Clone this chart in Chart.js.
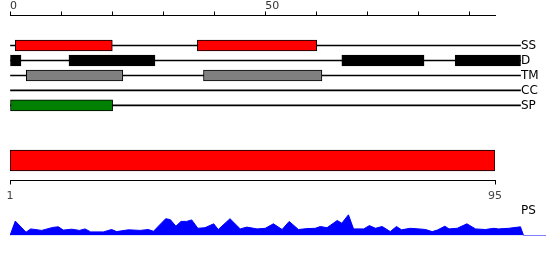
<!DOCTYPE html>
<html><head><meta charset="utf-8">
<script src="https://cdn.jsdelivr.net/npm/chart.js@4"></script>
<style>
html,body{margin:0;padding:0;background:#fff;}
#wrap{position:relative;width:550px;height:260px;overflow:hidden;}
canvas{position:absolute;left:0;}
</style></head><body>
<div id="wrap">
<canvas id="cTracks" width="550" height="113" style="top:0;width:550px;height:113px"></canvas>
<canvas id="cBar" width="550" height="65" style="top:140px;width:550px;height:65px"></canvas>
<canvas id="cPS" width="550" height="60" style="top:200px;width:550px;height:60px"></canvas>
</div>
<script>
// ---- data ----
const trackNames = ['SS', 'D', 'TM', 'CC', 'SP'];
const ssSegments = [[1.04, 20.04], [36.7, 60.1]];
const dSegments = [[0, 2.15], [11.55, 28.4], [65.0, 81.1], [87.2, 100]];
const tmSegments = [[3.2, 22.1], [37.9, 61.1]];
const ccSegments = [];
const spSegments = [[0, 20.1]];
const trackExtent = [0, 100];
const topTickValues = [0, 10, 20, 30, 40, 50, 60, 70, 80, 90];
const topTickLabels = ['0', '', '', '', '', '50', '', '', '', ''];
const proteinRange = [1, 95];
const bottomTickValues = [1, 95];
const psLabel = 'PS';
const psPositions = [0,1.04,3.14,4.06,6.22,8.37,9.47,10.45,12.1,13.6,14.7,15.8,18.3,19.9,20.9,23.2,25.5,27.1,28.1,30.5,31.4,32.5,33.5,34.6,35.6,36.8,38.2,39.9,40.8,43.1,45.1,46.4,48.4,50.0,51.6,53.3,54.7,56.5,58.2,59.8,60.8,62.1,64.1,65.0,66.3,67.3,69.3,70.4,71.6,72.9,74.5,75.7,76.7,78.4,80.1,81.4,82.7,83.7,85.2,86.0,87.6,89.5,91.2,93.1,94.8,95.7,97.7,100,100.6,105];
const psScores = [0,0.48,0.11,0.22,0.17,0.27,0.29,0.18,0.21,0.17,0.22,0.12,0.12,0.2,0.13,0.19,0.17,0.2,0.14,0.56,0.53,0.31,0.47,0.47,0.52,0.24,0.26,0.39,0.2,0.56,0.22,0.28,0.22,0.24,0.39,0.2,0.47,0.2,0.23,0.24,0.3,0.26,0.5,0.41,0.69,0.22,0.22,0.33,0.24,0.3,0.13,0.3,0.19,0.24,0.22,0.2,0.13,0.18,0.31,0.22,0.24,0.39,0.22,0.2,0.24,0.22,0.24,0.29,0,0];

Chart.defaults.font.family = "'DejaVu Sans', sans-serif";
Chart.defaults.animation = false;
Chart.defaults.responsive = false;
Chart.defaults.maintainAspectRatio = false;
Chart.defaults.plugins.legend.display = false;
Chart.defaults.plugins.tooltip.enabled = false;

// ---- tracks chart ----
function segData(segs, idx) { return segs.map(s => ({x: s, y: idx + 1})); }
function featureDataset(segs, idx, color) {
  return {data: segData(segs, idx), backgroundColor: color, borderColor: '#000', borderWidth: 1,
    borderSkipped: false, barThickness: 11, grouped: false, clip: false};
}
const trackSegs = [ssSegments, dSegments, tmSegments, ccSegments, spSegments];
const trackColors = ['#ff0000', '#000000', '#808080', '#000000', '#008000'];
const trackDatasets = trackSegs.map((s, i) => featureDataset(s, i, trackColors[i]));
trackDatasets.push({
  data: trackNames.map((n, i) => ({x: trackExtent, y: i + 1})),
  backgroundColor: '#000', borderWidth: 0, barThickness: 1, grouped: false, clip: false
});

new Chart(document.getElementById('cTracks'), {
  type: 'bar',
  data: {datasets: trackDatasets},
  options: {
    indexAxis: 'y',
    layout: {autoPadding: false, padding: {left: 10, right: 0, top: 0, bottom: 0}},
    scales: {
      x: {
        type: 'linear', position: 'top', min: 0, max: 95, offset: false,
        afterBuildTicks: s => { s.ticks = topTickValues.map(v => ({value: v})); },
        afterFit: s => { s.height = 15.5; },
        ticks: {callback: (v, i) => topTickLabels[i], align: 'start', autoSkip: false, maxRotation: 0,
          font: {size: 11, lineHeight: 1}, color: '#333', padding: 0},
        grid: {drawOnChartArea: false, drawTicks: true, tickLength: 4, color: '#000'},
        border: {display: true, color: '#000', width: 1}
      },
      y: {
        type: 'linear', position: 'right', reverse: true, min: -1, max: 5.5, offset: false,
        afterBuildTicks: s => { s.ticks = trackNames.map((n, i) => ({value: i + 1})); },
        afterFit: s => { s.width = 55; },
        ticks: {callback: (v, i) => trackNames[i], padding: 0, font: {size: 12, lineHeight: 0.01},
          color: '#000', autoSkip: false},
        grid: {display: false, drawTicks: true, tickLength: 26, offset: false},
        border: {display: false}
      }
    }
  }
});

// ---- protein bar + bottom axis ----
new Chart(document.getElementById('cBar'), {
  type: 'bar',
  data: {labels: ['protein'], datasets: [{
    data: [{x: proteinRange, y: 'protein'}], backgroundColor: '#ff0000', borderColor: '#000',
    borderWidth: 1, borderSkipped: false, barThickness: 21
  }]},
  options: {
    indexAxis: 'y',
    layout: {autoPadding: false, padding: {left: 10, right: 55, top: 0.5, bottom: 0}},
    scales: {
      x: {
        type: 'linear', position: 'bottom', min: proteinRange[0], max: proteinRange[1],
        afterBuildTicks: s => { s.ticks = bottomTickValues.map(v => ({value: v})); },
        afterFit: s => { s.height = 24.5; },
        ticks: {autoSkip: false, maxRotation: 0, font: {size: 11, lineHeight: 1}, color: '#444', padding: 6},
        grid: {drawOnChartArea: false, drawTicks: true, tickLength: 4, color: '#000'},
        border: {display: true, color: '#000', width: 1}
      },
      y: {type: 'category', display: false, offset: true}
    }
  }
});

// ---- PS profile ----
new Chart(document.getElementById('cPS'), {
  type: 'line',
  data: {datasets: [{
    data: psPositions.map((x, i) => ({x: x, y: psScores[i]})),
    fill: 'origin', backgroundColor: '#0000ff', borderColor: '#0000ff', borderWidth: 1,
    pointRadius: 0, tension: 0
  }]},
  options: {
    layout: {autoPadding: false, padding: {left: 10, right: 4, top: 5.5, bottom: 24.5}},
    scales: {
      x: {type: 'linear', min: 0, max: 105, display: false},
      y: {
        type: 'linear', position: {x: 103}, min: 0, max: 1,
        afterBuildTicks: s => { s.ticks = [{value: 0.82}]; },
        ticks: {callback: () => psLabel, padding: 0, font: {size: 12, lineHeight: 0.01}, color: '#000'},
        grid: {display: false, drawTicks: false},
        border: {display: false}
      }
    }
  }
});
</script>
</body></html>
